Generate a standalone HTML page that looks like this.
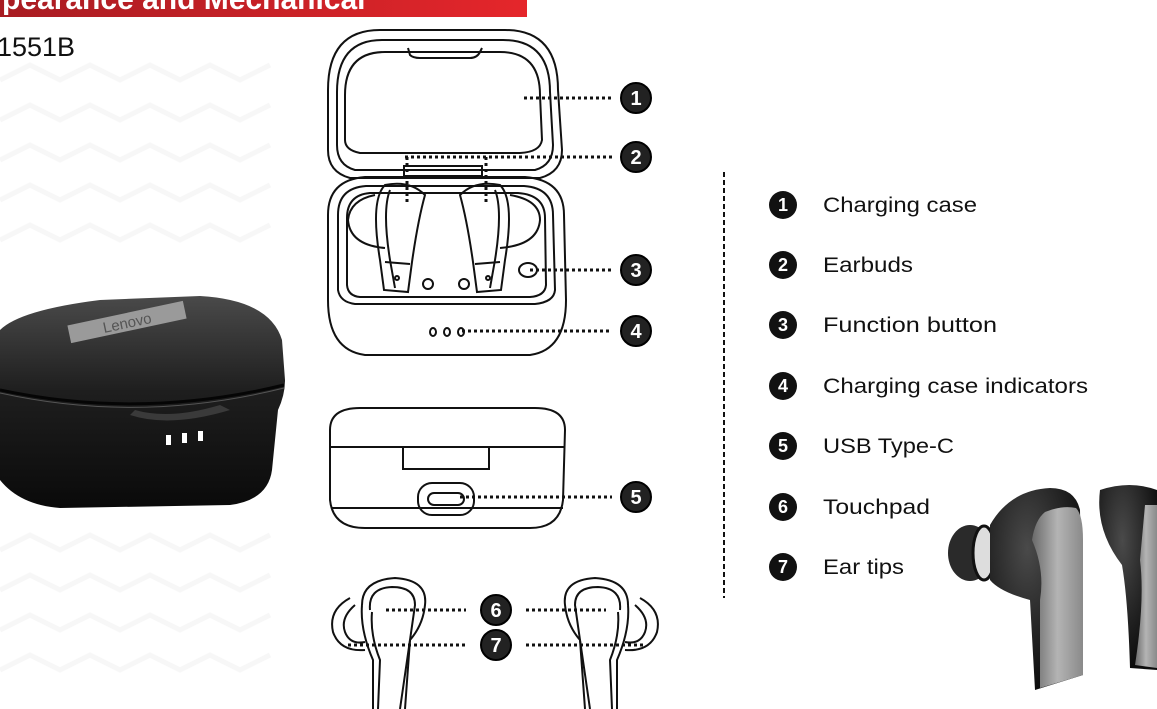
<!DOCTYPE html>
<html><head><meta charset="utf-8"><style>
html,body{margin:0;padding:0;background:#fff;width:1157px;height:709px;overflow:hidden}
svg{display:block}
text{font-family:"Liberation Sans",sans-serif}
</style></head><body>
<svg width="1157" height="709" viewBox="0 0 1157 709" xmlns="http://www.w3.org/2000/svg">
<defs>
<linearGradient id="red" x1="0" x2="1"><stop offset="0" stop-color="#a81c22"/><stop offset="1" stop-color="#e5262b"/></linearGradient>
<linearGradient id="caseg" x1="0" y1="0" x2="0" y2="1"><stop offset="0" stop-color="#4a4a4a"/><stop offset="0.45" stop-color="#1e1e1e"/><stop offset="1" stop-color="#0a0a0a"/></linearGradient>
<linearGradient id="silver" x1="0" x2="1"><stop offset="0" stop-color="#6a6a6a"/><stop offset="0.5" stop-color="#b4b4b4"/><stop offset="1" stop-color="#8a8a8a"/></linearGradient>
<radialGradient id="budg" cx="0.4" cy="0.3" r="0.7"><stop offset="0" stop-color="#4a4a4a"/><stop offset="1" stop-color="#0c0c0c"/></radialGradient>
</defs>
<g stroke="#f7f7f7" stroke-width="5" fill="none">
<path d="M0 80 L30 65 L60 80 L90 65 L120 80 L150 65 L180 80 L210 65 L240 80 L270 65"/>
<path d="M0 120 L30 105 L60 120 L90 105 L120 120 L150 105 L180 120 L210 105 L240 120 L270 105"/>
<path d="M0 160 L30 145 L60 160 L90 145 L120 160 L150 145 L180 160 L210 145 L240 160 L270 145"/>
<path d="M0 200 L30 185 L60 200 L90 185 L120 200 L150 185 L180 200 L210 185 L240 200 L270 185"/>
<path d="M0 240 L30 225 L60 240 L90 225 L120 240 L150 225 L180 240 L210 225 L240 240 L270 225"/>
<path d="M0 550 L30 535 L60 550 L90 535 L120 550 L150 535 L180 550 L210 535 L240 550 L270 535"/>
<path d="M0 590 L30 575 L60 590 L90 575 L120 590 L150 575 L180 590 L210 575 L240 590 L270 575"/>
<path d="M0 630 L30 615 L60 630 L90 615 L120 630 L150 615 L180 630 L210 615 L240 630 L270 615"/>
<path d="M0 670 L30 655 L60 670 L90 655 L120 670 L150 655 L180 670 L210 655 L240 670 L270 655"/>
</g>
<rect x="0" y="0" width="527" height="17" fill="url(#red)"/>
<text x="2" y="9" font-size="30" font-weight="bold" fill="#fff">pearance and Mechanical</text>
<text x="-3" y="56" font-size="27" fill="#111" textLength="78" lengthAdjust="spacingAndGlyphs">1551B</text>

<path d="M0 330 Q20 310 100 300 L200 296 Q270 300 282 340 L285 380 Q285 395 278 410 L272 470 Q268 500 230 505 L60 508 Q20 505 0 480 Z" fill="url(#caseg)"/>
<path d="M0 390 Q140 420 284 385" stroke="#050505" stroke-width="3" fill="none"/>
<path d="M0 393 Q140 424 284 388" stroke="#555" stroke-width="1" fill="none"/>
<path d="M130 415 Q170 428 230 410 L220 405 Q170 420 135 410Z" fill="#3a3a3a"/>
<rect x="68" y="313" width="118" height="18" fill="#9a9a9a" transform="rotate(-12 127 322)"/>
<text x="127" y="328" font-size="15" fill="#555" text-anchor="middle" transform="rotate(-12 127 322)">Lenovo</text>
<rect x="166" y="435" width="5" height="10" fill="#fff"/><rect x="182" y="433" width="5" height="10" fill="#fff"/><rect x="198" y="431" width="5" height="10" fill="#fff"/>

<g fill="none" stroke="#111" stroke-width="2">
<path d="M328 90 Q328 30 380 30 L505 30 Q558 30 558 90 L562 150 Q562 172 540 178 L350 178 Q328 172 328 150 Z"/>
<path d="M337 92 Q337 40 382 40 L503 40 Q550 40 550 92 L553 145 Q553 165 535 170 L355 170 Q337 165 337 145 Z"/>
<path d="M345 95 Q345 52 385 52 L500 52 Q540 52 540 95 L542 140 Q540 152 520 153 L360 153 Q345 150 345 140 Z"/>
<path d="M408 48 L410 55 Q413 58 420 58 L470 58 Q477 58 480 52 L482 48"/>
<path d="M328 215 Q328 180 365 177 L525 177 Q564 180 564 215 L566 300 Q566 350 530 355 L365 355 Q328 350 328 300 Z"/>
<path d="M338 215 Q338 188 366 186 L524 186 Q553 188 553 215 L555 290 Q554 302 535 304 L355 304 Q340 302 338 290 Z"/>
<path d="M347 218 Q347 195 370 193 L518 193 Q545 195 545 218 L546 285 Q545 296 530 297 L360 297 Q348 296 347 285 Z"/>
<path d="M404 166 L482 166 L482 176 L404 176 Z"/>
<path d="M375 195 Q350 200 348 220 Q350 245 385 248"/>
<path d="M510 195 Q540 200 540 220 Q538 245 500 248"/>
<path d="M385 185 Q370 200 380 260 L384 290 L408 292 L412 262 Q418 220 425 195 Q410 180 385 185Z"/>
<path d="M390 190 Q382 210 390 260 L395 288"/>
<path d="M385 262 L410 264"/>
<path d="M500 185 Q515 200 505 260 L501 290 L477 292 L473 262 Q467 220 460 195 Q475 180 500 185Z"/>
<path d="M495 190 Q503 210 495 260 L490 288"/>
<path d="M500 262 L475 264"/>
<circle cx="397" cy="278" r="2"/><circle cx="488" cy="278" r="2"/>
<circle cx="428" cy="284" r="5"/><circle cx="464" cy="284" r="5"/>
<ellipse cx="528" cy="270" rx="9" ry="7"/>
<ellipse cx="433" cy="332" rx="3" ry="4"/><ellipse cx="447" cy="332" rx="3" ry="4"/><ellipse cx="461" cy="332" rx="3" ry="4"/>
<path d="M330 430 Q330 408 360 408 L535 408 Q565 408 565 430 L563 500 Q560 528 530 528 L365 528 Q333 528 330 500 Z"/>
<path d="M330 447 L565 447"/><path d="M332 508 L563 508"/>
<rect x="403" y="447" width="86" height="22"/>
<rect x="418" y="483" width="56" height="32" rx="14"/>
<rect x="428" y="493" width="36" height="12" rx="6"/>
<path d="M350 598 Q328 610 333 632 Q340 652 365 650"/>
<path d="M355 605 Q340 618 345 632 Q350 645 365 642"/>
<path d="M362 605 Q362 580 395 578 Q428 580 425 605 Q423 625 410 640 L405 709"/>
<path d="M370 610 Q368 588 392 587 Q415 587 415 605 L410 640 L400 709"/>
<path d="M362 605 Q360 630 373 660 L373 709"/><path d="M372 612 Q370 635 380 660 L378 709"/>
<path d="M640 598 Q662 610 657 632 Q650 652 625 650"/>
<path d="M635 605 Q650 618 645 632 Q640 645 625 642"/>
<path d="M628 605 Q628 580 595 578 Q562 580 565 605 Q567 625 580 640 L585 709"/>
<path d="M620 610 Q622 588 598 587 Q575 587 575 605 L580 640 L590 709"/>
<path d="M628 605 Q630 630 617 660 L617 709"/><path d="M618 612 Q620 635 610 660 L612 709"/>
</g>
<g stroke="#111" stroke-width="3" stroke-dasharray="3 3" fill="none">
<path d="M524 98 L612 98"/>
<path d="M405 157 L612 157"/><path d="M407 157 L407 205"/><path d="M486 157 L486 205"/>
<path d="M530 270 L612 270"/>
<path d="M462 331 L612 331"/>
<path d="M460 497 L612 497"/>
<path d="M386 610 L466 610"/><path d="M526 610 L606 610"/>
<path d="M348 645 L466 645"/><path d="M526 645 L645 645"/>
<path d="M724 172 L724 598" stroke-width="2" stroke-dasharray="5 3"/>
</g>
<g font-size="20" font-weight="bold" text-anchor="middle" fill="#fff">
<circle cx="636" cy="98" r="15" fill="#222" stroke="#000" stroke-width="2"/><text x="636" y="105">1</text>
<circle cx="636" cy="157" r="15" fill="#222" stroke="#000" stroke-width="2"/><text x="636" y="164">2</text>
<circle cx="636" cy="270" r="15" fill="#222" stroke="#000" stroke-width="2"/><text x="636" y="277">3</text>
<circle cx="636" cy="331" r="15" fill="#222" stroke="#000" stroke-width="2"/><text x="636" y="338">4</text>
<circle cx="636" cy="497" r="15" fill="#222" stroke="#000" stroke-width="2"/><text x="636" y="504">5</text>
<circle cx="496" cy="610" r="15" fill="#222" stroke="#000" stroke-width="2"/><text x="496" y="617">6</text>
<circle cx="496" cy="645" r="15" fill="#222" stroke="#000" stroke-width="2"/><text x="496" y="652">7</text>
</g>
<g font-size="18" font-weight="bold" text-anchor="middle" fill="#fff">
<circle cx="783" cy="205" r="14" fill="#111"/><text x="783" y="211">1</text>
<circle cx="783" cy="265" r="14" fill="#111"/><text x="783" y="271">2</text>
<circle cx="783" cy="325" r="14" fill="#111"/><text x="783" y="331">3</text>
<circle cx="783" cy="386" r="14" fill="#111"/><text x="783" y="392">4</text>
<circle cx="783" cy="446" r="14" fill="#111"/><text x="783" y="452">5</text>
<circle cx="783" cy="507" r="14" fill="#111"/><text x="783" y="513">6</text>
<circle cx="783" cy="567" r="14" fill="#111"/><text x="783" y="573">7</text>
</g>
<g font-size="21" fill="#111">
<text x="823" y="212" textLength="154" lengthAdjust="spacingAndGlyphs">Charging case</text>
<text x="823" y="272" textLength="90" lengthAdjust="spacingAndGlyphs">Earbuds</text>
<text x="823" y="332" textLength="174" lengthAdjust="spacingAndGlyphs">Function button</text>
<text x="823" y="393" textLength="265" lengthAdjust="spacingAndGlyphs">Charging case indicators</text>
<text x="823" y="453" textLength="131" lengthAdjust="spacingAndGlyphs">USB Type-C</text>
<text x="823" y="514" textLength="107" lengthAdjust="spacingAndGlyphs">Touchpad</text>
<text x="823" y="574" textLength="81" lengthAdjust="spacingAndGlyphs">Ear tips</text>
</g>
<path d="M1100 490 Q1130 480 1157 490 L1157 670 L1130 668 Q1128 600 1122 565 Q1095 530 1100 490Z" fill="url(#budg)"/>
<path d="M1145 505 L1157 505 L1157 668 L1135 665 Q1145 600 1140 560Z" fill="url(#silver)"/>
<ellipse cx="970" cy="553" rx="22" ry="28" fill="#2a2a2a"/>
<ellipse cx="984" cy="553" rx="11" ry="27" fill="#ddd" stroke="#111" stroke-width="3"/>
<path d="M990 525 Q1010 490 1050 488 Q1075 488 1080 510 L1083 675 L1035 690 L1030 600 Q1000 592 990 580Z" fill="url(#budg)"/>
<path d="M1045 512 Q1062 505 1076 508 Q1083 515 1083 540 L1083 675 L1040 688 L1040 600 Q1045 570 1032 540 Q1035 520 1045 512Z" fill="url(#silver)"/>
</svg>
</body></html>
